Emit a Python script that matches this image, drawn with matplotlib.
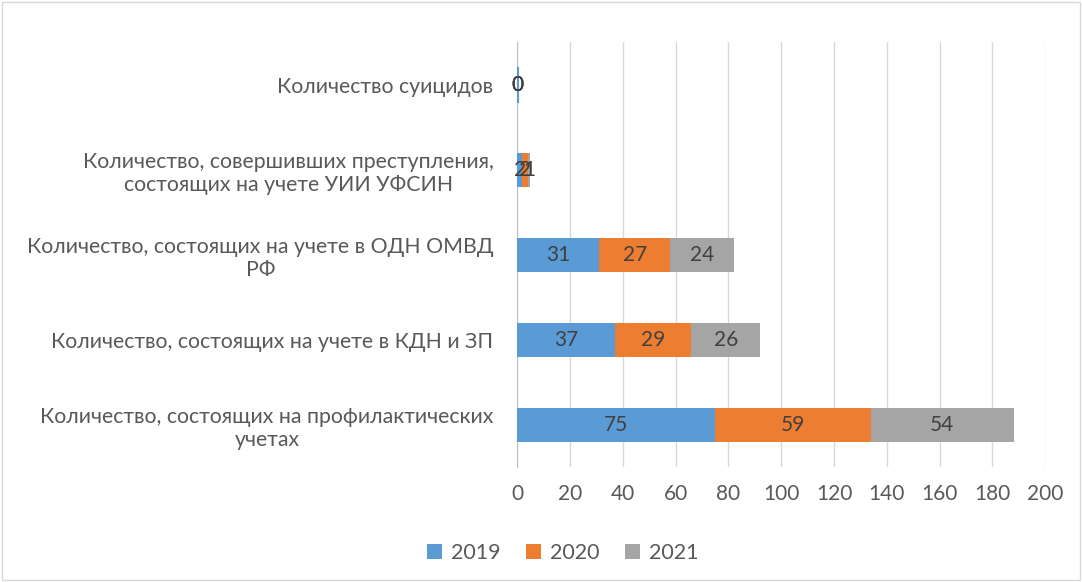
import matplotlib.pyplot as plt
import numpy as np

plt.rcParams['font.family'] = ['Lato', 'DejaVu Sans']

categories = [
    'Количество, состоящих на профилактических\nучетах',
    'Количество, состоящих на учете в КДН и ЗП',
    'Количество, состоящих на учете в ОДН ОМВД\nРФ',
    'Количество, совершивших преступления,\nсостоящих на учете УИИ УФСИН',
    'Количество суицидов',
]
years = ['2019', '2020', '2021']
v2019 = [75, 37, 31, 2, 0]
v2020 = [59, 29, 27, 2, 0]
v2021 = [54, 26, 24, 1, 0]
colors = ['#5b9bd5', '#ed7d31', '#a5a5a5']
txt = '#595959'

fig = plt.figure(figsize=(10.82, 5.82), dpi=100)
ax = fig.add_axes([0.478, 0.197, 0.488, 0.730])

y = np.arange(len(categories))
left = np.zeros(len(categories))
for vals, c, name in zip([v2019, v2020, v2021], colors, years):
    bars = ax.barh(y, vals, left=left, height=0.4, color=c, label=name, zorder=3)
    for b, v in zip(bars, vals):
        ax.text(b.get_x() + b.get_width() / 2, b.get_y() + b.get_height() / 2, str(v),
                ha='center', va='center', fontsize=15, color='#404040', zorder=4)
    left += np.array(vals)
# zero-width bar outline seen in the original
ax.plot([0.3, 0.3], [3.8, 4.2], color=colors[0], linewidth=1.5, zorder=3)

ax.set_xlim(0, 200)
ax.set_ylim(-0.5, len(categories) - 0.5)
ax.set_xticks(range(0, 201, 20))
ax.set_yticks(y)
ax.set_yticklabels(categories, multialignment='center', fontsize=15.3)
ax.tick_params(axis='both', length=0, colors=txt)
ax.tick_params(axis='x', labelsize=15, pad=12)
ax.tick_params(axis='y', pad=17)
ax.grid(axis='x', color='#d9d9d9', linewidth=1, zorder=0)
for s in ['top', 'right', 'bottom']:
    ax.spines[s].set_visible(False)
ax.spines['left'].set_color('#bfbfbf')

ax.legend(loc='lower center', bbox_to_anchor=(0.52, 0.0), bbox_transform=fig.transFigure,
          ncol=3, frameon=False, fontsize=15.5, handlelength=0.7, handleheight=0.7,
          columnspacing=1.2, handletextpad=0.4, labelcolor=txt)
fig.add_artist(plt.Rectangle((0.002, 0.003), 0.996, 0.994, transform=fig.transFigure,
                             fill=False, edgecolor='#d9d9d9', linewidth=1))
plt.savefig('out.png')
